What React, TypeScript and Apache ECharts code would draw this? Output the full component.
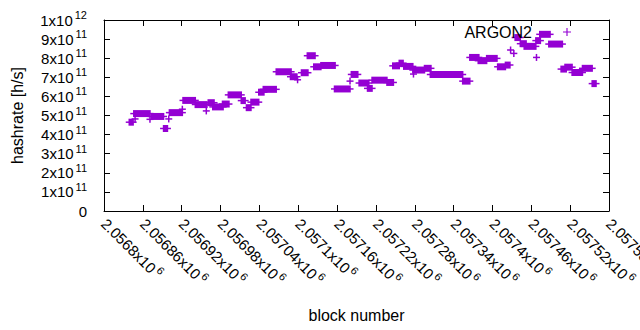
import { useEffect, useRef } from 'react';
import * as echarts from 'echarts';

const seriesName = 'ARGON2';
const PURPLE = '#9400D3';
const FONT = 'Liberation Sans';

// each run of points at one hashrate: first block, last block, hashrate [h/s]
const segStart = [
  2056839, 2056848, 2056846, 2056871, 2056873, 2056892, 2056900, 2056901, 2056921, 2056922,
  2056941, 2056958, 2056961, 2056968, 2056983, 2056992, 2057012, 2057020, 2057027, 2057039,
  2057046, 2057066, 2057088, 2057099, 2057105, 2057114, 2057124, 2057135, 2057156, 2057180,
  2057182, 2057194, 2057207, 2057214, 2057237, 2057246, 2057256, 2057263, 2057277, 2057278,
  2057295, 2057304, 2057354, 2057365, 2057378, 2057391, 2057408, 2057420, 2057428, 2057433,
  2057435, 2057443, 2057449, 2057467, 2057468, 2057473, 2057487, 2057506, 2057512, 2057523,
  2057539, 2057554,
];
const segEnd = [
  2056845, 2056848, 2056871, 2056871, 2056892, 2056898, 2056900, 2056921, 2056921, 2056941,
  2056959, 2056958, 2056970, 2056984, 2056993, 2057012, 2057018, 2057027, 2057039, 2057047,
  2057066, 2057089, 2057098, 2057099, 2057115, 2057126, 2057135, 2057157, 2057180, 2057180,
  2057192, 2057209, 2057214, 2057237, 2057247, 2057256, 2057262, 2057277, 2057295, 2057278,
  2057305, 2057354, 2057365, 2057379, 2057391, 2057407, 2057420, 2057427, 2057428, 2057433,
  2057443, 2057452, 2057467, 2057474, 2057468, 2057489, 2057508, 2057514, 2057523, 2057539,
  2057554, 2057560,
];
const segHashrate = [
  4.65e11, 4.82e11, 5.10e11, 4.80e11, 4.95e11, 4.32e11, 4.82e11, 5.15e11, 5.33e11, 5.79e11,
  5.57e11, 5.24e11, 5.67e11, 5.45e11, 5.60e11, 6.08e11, 5.78e11, 5.41e11, 5.70e11, 6.22e11,
  6.37e11, 7.29e11, 7.03e11, 6.87e11, 7.24e11, 8.13e11, 7.55e11, 7.62e11, 6.39e11, 6.80e11,
  7.15e11, 6.70e11, 6.42e11, 6.85e11, 6.73e11, 7.60e11, 7.74e11, 7.57e11, 7.38e11, 7.17e11,
  7.47e11, 7.15e11, 6.80e11, 8.04e11, 7.87e11, 7.99e11, 7.55e11, 7.64e11, 8.43e11, 8.25e11,
  9.08e11, 8.76e11, 8.62e11, 8.92e11, 8.04e11, 9.25e11, 8.74e11, 7.43e11, 7.53e11, 7.25e11,
  7.47e11, 6.67e11,
];

const xMin = 2056800;
const xMax = 2057580;
const xStep = 60;
const yMin = 0;
const yMax = 1e12;
const yStep = 1e11;

function sciLabel(v: number): string {
  if (v === 0) return '0';
  const e = Math.floor(Math.log10(Math.abs(v)) + 1e-9);
  const m = parseFloat((v / Math.pow(10, e)).toFixed(6));
  return `${m}x10{sup|${e}}`;
}

export default function App() {
  const ref = useRef<HTMLDivElement>(null);
  useEffect(() => {
    document.body.style.margin = '0';
    if (!ref.current) return;
    const chart = echarts.init(ref.current, undefined, { renderer: 'svg' });
    const data = segStart.map((s, i) => [s, segEnd[i], segHashrate[i]]);
    const labelText = { fontFamily: FONT, fontSize: 15, color: '#000' };
    const titleText = { fontFamily: FONT, fontSize: 16, color: '#000' };
    const rich = { sup: { fontFamily: FONT, fontSize: 11, color: '#000', padding: [0, 0, 10, 2] } };
    const tick = { show: true, inside: true, length: 6, lineStyle: { color: '#000', width: 1 } };
    const line = { show: true, onZero: false, lineStyle: { color: '#000', width: 1 } };
    chart.setOption({
      animation: false,
      backgroundColor: '#fff',
      grid: { left: 104, right: 31, top: 20, bottom: 119, outerBoundsMode: 'none', show: false },
      legend: {
        data: [{ name: seriesName, icon: 'path://M3,0H4V3H7V4H4V7H3V4H0V3H3Z' }],
        right: 69,
        top: 24,
        padding: 0,
        align: 'right',
        itemWidth: 8,
        itemHeight: 8,
        textStyle: { ...titleText, padding: [0, 26, 0, 0] },
      },
      xAxis: [
        {
          type: 'value', min: xMin, max: xMax, interval: xStep, position: 'bottom',
          axisLine: line, axisTick: tick, splitLine: { show: false },
          axisLabel: { ...labelText, rotate: -45, margin: 10, showMinLabel: true, showMaxLabel: true, formatter: sciLabel, rich },
          name: 'block number', nameLocation: 'middle', nameGap: 96,
          nameTextStyle: titleText,
        },
        {
          type: 'value', min: xMin, max: xMax, interval: xStep, position: 'top',
          axisLine: line, axisTick: tick, splitLine: { show: false }, axisLabel: { show: false },
        },
      ],
      yAxis: [
        {
          type: 'value', min: yMin, max: yMax, interval: yStep, position: 'left',
          axisLine: line, axisTick: tick, splitLine: { show: false },
          axisLabel: { ...labelText, margin: 17, formatter: sciLabel, rich },
          name: 'hashrate [h/s]', nameLocation: 'middle', nameGap: 79, nameRotate: 90,
          nameTextStyle: titleText,
        },
        {
          type: 'value', min: yMin, max: yMax, interval: yStep, position: 'right',
          axisLine: line, axisTick: tick, splitLine: { show: false }, axisLabel: { show: false },
        },
      ],
      series: [
        {
          name: seriesName,
          type: 'custom',
          xAxisIndex: 0,
          yAxisIndex: 0,
          itemStyle: { color: PURPLE },
          encode: { x: [0, 1], y: 2 },
          clip: false,
          data,
          renderItem: (_params: any, api: any) => {
            const v = api.value(2);
            const p0 = api.coord([api.value(0), v]);
            const p1 = api.coord([api.value(1), v]);
            const w = p1[0] - p0[0];
            return {
              type: 'group',
              children: [
                { type: 'rect', shape: { x: p0[0] - 0.75, y: p0[1] - 3.5, width: w + 1.5, height: 7 }, style: { fill: PURPLE } },
                { type: 'rect', shape: { x: p0[0] - 3.5, y: p0[1] - 0.75, width: w + 7, height: 1.5 }, style: { fill: PURPLE } },
              ],
            };
          },
        },
      ],
    });
    return () => chart.dispose();
  }, []);
  return <div ref={ref} style={{ width: 640, height: 330 }} />;
}
